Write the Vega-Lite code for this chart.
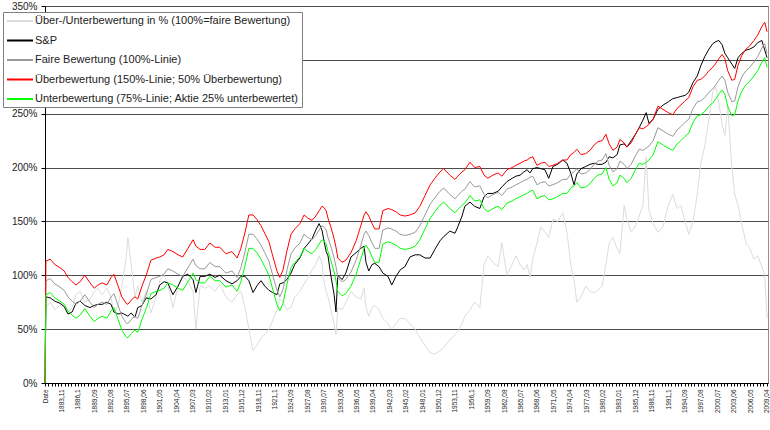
{
  "$schema": "https://vega.github.io/schema/vega-lite/v6.json",
  "width": 723,
  "height": 377,
  "autosize": "none",
  "padding": {"left": 45, "top": 6, "right": 2, "bottom": 47},
  "background": "white",
  "config": {
    "font": "Liberation Sans",
    "view": {"stroke": "#909090"},
    "axis": {"domainColor": "#000000", "tickColor": "#000000", "labelColor": "#222222", "labelFont": "Liberation Sans"}
  },
  "data": {"values": [
    {"m":0,"ratio":0,"sp":0,"fair":0,"over":0,"under":0},
    {"m":2,"ratio":70,"sp":80,"fair":95,"over":113,"under":82},
    {"m":11,"ratio":75,"sp":79,"fair":97,"over":115,"under":84},
    {"m":21,"ratio":68,"sp":76,"fair":92,"over":110,"under":79},
    {"m":32,"ratio":72,"sp":74,"fair":89,"over":107,"under":76},
    {"m":41,"ratio":70,"sp":71,"fair":86,"over":104,"under":73},
    {"m":49,"ratio":66,"sp":64,"fair":80,"over":98,"under":67},
    {"m":58,"ratio":70,"sp":66,"fair":76,"over":94,"under":63},
    {"m":66,"ratio":82,"sp":74,"fair":73,"over":91,"under":60},
    {"m":75,"ratio":85,"sp":76,"fair":76,"over":94,"under":63},
    {"m":85,"ratio":75,"sp":72,"fair":82,"over":100,"under":69},
    {"m":96,"ratio":78,"sp":70,"fair":75,"over":93,"under":62},
    {"m":105,"ratio":85,"sp":72,"fair":70,"over":88,"under":57},
    {"m":113,"ratio":88,"sp":73,"fair":73,"over":91,"under":60},
    {"m":122,"ratio":82,"sp":73,"fair":75,"over":93,"under":62},
    {"m":132,"ratio":88,"sp":75,"fair":73,"over":91,"under":60},
    {"m":141,"ratio":80,"sp":73,"fair":80,"over":98,"under":67},
    {"m":147,"ratio":65,"sp":66,"fair":83,"over":101,"under":70},
    {"m":156,"ratio":72,"sp":64,"fair":72,"over":90,"under":59},
    {"m":164,"ratio":90,"sp":65,"fair":62,"over":80,"under":49},
    {"m":173,"ratio":115,"sp":63,"fair":56,"over":74,"under":43},
    {"m":177,"ratio":135,"sp":62,"fair":55,"over":73,"under":42},
    {"m":184,"ratio":110,"sp":65,"fair":59,"over":77,"under":46},
    {"m":192,"ratio":80,"sp":61,"fair":62,"over":80,"under":49},
    {"m":198,"ratio":90,"sp":70,"fair":60,"over":78,"under":47},
    {"m":207,"ratio":75,"sp":72,"fair":72,"over":90,"under":59},
    {"m":216,"ratio":85,"sp":79,"fair":82,"over":100,"under":69},
    {"m":226,"ratio":65,"sp":78,"fair":96,"over":114,"under":83},
    {"m":237,"ratio":80,"sp":82,"fair":98,"over":116,"under":85},
    {"m":245,"ratio":95,"sp":91,"fair":99,"over":117,"under":86},
    {"m":254,"ratio":100,"sp":94,"fair":101,"over":119,"under":88},
    {"m":262,"ratio":92,"sp":93,"fair":106,"over":124,"under":93},
    {"m":273,"ratio":70,"sp":82,"fair":104,"over":122,"under":91},
    {"m":284,"ratio":90,"sp":90,"fair":101,"over":119,"under":88},
    {"m":294,"ratio":98,"sp":99,"fair":99,"over":117,"under":86},
    {"m":305,"ratio":95,"sp":101,"fair":107,"over":125,"under":94},
    {"m":316,"ratio":85,"sp":96,"fair":115,"over":133,"under":102},
    {"m":322,"ratio":50,"sp":84,"fair":109,"over":127,"under":96},
    {"m":331,"ratio":90,"sp":99,"fair":106,"over":124,"under":93},
    {"m":341,"ratio":88,"sp":99,"fair":106,"over":124,"under":93},
    {"m":352,"ratio":90,"sp":101,"fair":112,"over":130,"under":99},
    {"m":363,"ratio":85,"sp":98,"fair":108,"over":126,"under":95},
    {"m":373,"ratio":92,"sp":100,"fair":108,"over":126,"under":95},
    {"m":386,"ratio":80,"sp":95,"fair":102,"over":120,"under":89},
    {"m":399,"ratio":75,"sp":92,"fair":104,"over":122,"under":91},
    {"m":410,"ratio":82,"sp":95,"fair":98,"over":116,"under":85},
    {"m":418,"ratio":85,"sp":99,"fair":107,"over":125,"under":94},
    {"m":427,"ratio":70,"sp":99,"fair":122,"over":140,"under":109},
    {"m":435,"ratio":50,"sp":95,"fair":138,"over":156,"under":125},
    {"m":444,"ratio":30,"sp":84,"fair":138,"over":156,"under":125},
    {"m":452,"ratio":35,"sp":90,"fair":134,"over":152,"under":121},
    {"m":461,"ratio":42,"sp":95,"fair":128,"over":146,"under":115},
    {"m":469,"ratio":45,"sp":90,"fair":121,"over":139,"under":108},
    {"m":478,"ratio":50,"sp":86,"fair":113,"over":131,"under":100},
    {"m":486,"ratio":58,"sp":84,"fair":100,"over":118,"under":87},
    {"m":495,"ratio":68,"sp":82,"fair":86,"over":104,"under":73},
    {"m":501,"ratio":78,"sp":92,"fair":80,"over":98,"under":67},
    {"m":508,"ratio":75,"sp":93,"fair":87,"over":105,"under":74},
    {"m":516,"ratio":68,"sp":96,"fair":104,"over":122,"under":91},
    {"m":525,"ratio":70,"sp":102,"fair":120,"over":138,"under":107},
    {"m":533,"ratio":80,"sp":110,"fair":125,"over":143,"under":112},
    {"m":544,"ratio":85,"sp":116,"fair":130,"over":148,"under":117},
    {"m":553,"ratio":92,"sp":125,"fair":138,"over":156,"under":125},
    {"m":561,"ratio":98,"sp":129,"fair":135,"over":153,"under":122},
    {"m":570,"ratio":105,"sp":134,"fair":133,"over":151,"under":120},
    {"m":578,"ratio":110,"sp":142,"fair":137,"over":155,"under":124},
    {"m":585,"ratio":118,"sp":148,"fair":142,"over":160,"under":129},
    {"m":591,"ratio":112,"sp":142,"fair":146,"over":164,"under":133},
    {"m":595,"ratio":95,"sp":133,"fair":145,"over":163,"under":132},
    {"m":600,"ratio":85,"sp":122,"fair":142,"over":160,"under":129},
    {"m":604,"ratio":80,"sp":118,"fair":135,"over":153,"under":122},
    {"m":610,"ratio":68,"sp":100,"fair":127,"over":145,"under":114},
    {"m":617,"ratio":55,"sp":82,"fair":116,"over":134,"under":103},
    {"m":621,"ratio":45,"sp":66,"fair":108,"over":126,"under":95},
    {"m":625,"ratio":70,"sp":100,"fair":98,"over":116,"under":85},
    {"m":634,"ratio":68,"sp":96,"fair":94,"over":112,"under":81},
    {"m":642,"ratio":75,"sp":102,"fair":96,"over":114,"under":83},
    {"m":653,"ratio":85,"sp":117,"fair":103,"over":121,"under":90},
    {"m":664,"ratio":80,"sp":121,"fair":114,"over":132,"under":101},
    {"m":674,"ratio":78,"sp":125,"fair":128,"over":146,"under":115},
    {"m":681,"ratio":88,"sp":127,"fair":138,"over":156,"under":125},
    {"m":685,"ratio":70,"sp":112,"fair":141,"over":159,"under":128},
    {"m":691,"ratio":62,"sp":104,"fair":137,"over":155,"under":124},
    {"m":698,"ratio":70,"sp":110,"fair":130,"over":148,"under":117},
    {"m":704,"ratio":72,"sp":111,"fair":125,"over":143,"under":112},
    {"m":713,"ratio":68,"sp":108,"fair":125,"over":143,"under":112},
    {"m":721,"ratio":60,"sp":102,"fair":142,"over":160,"under":129},
    {"m":732,"ratio":55,"sp":99,"fair":144,"over":162,"under":131},
    {"m":740,"ratio":50,"sp":91,"fair":143,"over":161,"under":130},
    {"m":749,"ratio":55,"sp":99,"fair":141,"over":159,"under":128},
    {"m":758,"ratio":60,"sp":105,"fair":138,"over":156,"under":125},
    {"m":768,"ratio":60,"sp":108,"fair":137,"over":155,"under":124},
    {"m":779,"ratio":55,"sp":117,"fair":138,"over":156,"under":125},
    {"m":790,"ratio":50,"sp":119,"fair":140,"over":158,"under":127},
    {"m":800,"ratio":42,"sp":119,"fair":146,"over":164,"under":133},
    {"m":811,"ratio":35,"sp":116,"fair":156,"over":174,"under":143},
    {"m":822,"ratio":28,"sp":116,"fair":166,"over":184,"under":153},
    {"m":832,"ratio":27,"sp":124,"fair":172,"over":190,"under":159},
    {"m":843,"ratio":30,"sp":132,"fair":178,"over":196,"under":165},
    {"m":851,"ratio":33,"sp":136,"fair":181,"over":199,"under":168},
    {"m":864,"ratio":40,"sp":141,"fair":175,"over":193,"under":162},
    {"m":875,"ratio":45,"sp":139,"fair":171,"over":189,"under":158},
    {"m":881,"ratio":48,"sp":145,"fair":174,"over":192,"under":161},
    {"m":890,"ratio":55,"sp":155,"fair":178,"over":196,"under":165},
    {"m":896,"ratio":62,"sp":164,"fair":180,"over":198,"under":167},
    {"m":907,"ratio":68,"sp":168,"fair":187,"over":205,"under":174},
    {"m":917,"ratio":75,"sp":164,"fair":182,"over":200,"under":169},
    {"m":928,"ratio":70,"sp":162,"fair":183,"over":201,"under":170},
    {"m":937,"ratio":110,"sp":173,"fair":175,"over":193,"under":162},
    {"m":945,"ratio":118,"sp":176,"fair":172,"over":190,"under":159},
    {"m":956,"ratio":112,"sp":176,"fair":175,"over":193,"under":162},
    {"m":967,"ratio":108,"sp":178,"fair":177,"over":195,"under":164},
    {"m":975,"ratio":130,"sp":182,"fair":174,"over":192,"under":161},
    {"m":986,"ratio":100,"sp":187,"fair":180,"over":198,"under":167},
    {"m":997,"ratio":110,"sp":190,"fair":182,"over":200,"under":169},
    {"m":1005,"ratio":118,"sp":192,"fair":184,"over":202,"under":171},
    {"m":1014,"ratio":110,"sp":193,"fair":186,"over":204,"under":173},
    {"m":1022,"ratio":105,"sp":196,"fair":188,"over":206,"under":175},
    {"m":1029,"ratio":110,"sp":198,"fair":189,"over":207,"under":176},
    {"m":1035,"ratio":98,"sp":195,"fair":191,"over":209,"under":178},
    {"m":1041,"ratio":115,"sp":199,"fair":192,"over":210,"under":179},
    {"m":1050,"ratio":130,"sp":200,"fair":184,"over":202,"under":171},
    {"m":1058,"ratio":145,"sp":199,"fair":186,"over":204,"under":173},
    {"m":1067,"ratio":140,"sp":198,"fair":187,"over":205,"under":174},
    {"m":1075,"ratio":135,"sp":190,"fair":183,"over":201,"under":170},
    {"m":1084,"ratio":152,"sp":201,"fair":184,"over":202,"under":171},
    {"m":1094,"ratio":150,"sp":203,"fair":186,"over":204,"under":173},
    {"m":1105,"ratio":158,"sp":207,"fair":189,"over":207,"under":176},
    {"m":1114,"ratio":140,"sp":204,"fair":189,"over":207,"under":176},
    {"m":1122,"ratio":110,"sp":195,"fair":194,"over":212,"under":181},
    {"m":1129,"ratio":96,"sp":184,"fair":196,"over":214,"under":183},
    {"m":1135,"ratio":75,"sp":194,"fair":199,"over":217,"under":186},
    {"m":1144,"ratio":80,"sp":199,"fair":194,"over":212,"under":181},
    {"m":1154,"ratio":90,"sp":201,"fair":195,"over":213,"under":182},
    {"m":1163,"ratio":85,"sp":203,"fair":198,"over":216,"under":185},
    {"m":1172,"ratio":84,"sp":204,"fair":203,"over":221,"under":190},
    {"m":1180,"ratio":86,"sp":203,"fair":206,"over":224,"under":193},
    {"m":1189,"ratio":90,"sp":203,"fair":207,"over":225,"under":194},
    {"m":1197,"ratio":110,"sp":205,"fair":213,"over":231,"under":200},
    {"m":1204,"ratio":130,"sp":210,"fair":202,"over":222,"under":189},
    {"m":1212,"ratio":135,"sp":209,"fair":196,"over":216,"under":183},
    {"m":1221,"ratio":125,"sp":212,"fair":199,"over":219,"under":186},
    {"m":1227,"ratio":120,"sp":221,"fair":206,"over":226,"under":193},
    {"m":1236,"ratio":165,"sp":222,"fair":203,"over":223,"under":190},
    {"m":1242,"ratio":152,"sp":219,"fair":199,"over":219,"under":186},
    {"m":1251,"ratio":140,"sp":225,"fair":203,"over":223,"under":190},
    {"m":1259,"ratio":145,"sp":230,"fair":210,"over":230,"under":197},
    {"m":1268,"ratio":155,"sp":237,"fair":217,"over":237,"under":204},
    {"m":1276,"ratio":165,"sp":244,"fair":216,"over":236,"under":203},
    {"m":1283,"ratio":210,"sp":251,"fair":218,"over":238,"under":205},
    {"m":1289,"ratio":160,"sp":241,"fair":220,"over":240,"under":207},
    {"m":1298,"ratio":148,"sp":245,"fair":225,"over":245,"under":212},
    {"m":1308,"ratio":140,"sp":254,"fair":237,"over":257,"under":224},
    {"m":1319,"ratio":145,"sp":258,"fair":234,"over":254,"under":221},
    {"m":1330,"ratio":165,"sp":261,"fair":231,"over":251,"under":218},
    {"m":1340,"ratio":175,"sp":264,"fair":229,"over":249,"under":216},
    {"m":1349,"ratio":162,"sp":265,"fair":235,"over":255,"under":222},
    {"m":1357,"ratio":165,"sp":266,"fair":238,"over":258,"under":225},
    {"m":1366,"ratio":150,"sp":267,"fair":242,"over":262,"under":229},
    {"m":1374,"ratio":138,"sp":270,"fair":245,"over":265,"under":232},
    {"m":1383,"ratio":150,"sp":279,"fair":255,"over":275,"under":242},
    {"m":1392,"ratio":175,"sp":285,"fair":261,"over":281,"under":248},
    {"m":1400,"ratio":205,"sp":295,"fair":262,"over":282,"under":249},
    {"m":1408,"ratio":220,"sp":303,"fair":265,"over":285,"under":252},
    {"m":1417,"ratio":245,"sp":310,"fair":270,"over":290,"under":257},
    {"m":1425,"ratio":270,"sp":315,"fair":273,"over":293,"under":260},
    {"m":1432,"ratio":275,"sp":317,"fair":277,"over":297,"under":264},
    {"m":1438,"ratio":260,"sp":318,"fair":281,"over":301,"under":268},
    {"m":1445,"ratio":240,"sp":314,"fair":285,"over":305,"under":272},
    {"m":1451,"ratio":230,"sp":306,"fair":281,"over":301,"under":268},
    {"m":1457,"ratio":258,"sp":302,"fair":270,"over":290,"under":257},
    {"m":1466,"ratio":200,"sp":296,"fair":261,"over":281,"under":248},
    {"m":1472,"ratio":175,"sp":292,"fair":262,"over":282,"under":249},
    {"m":1479,"ratio":165,"sp":302,"fair":275,"over":295,"under":262},
    {"m":1487,"ratio":148,"sp":306,"fair":284,"over":304,"under":271},
    {"m":1496,"ratio":130,"sp":309,"fair":290,"over":310,"under":277},
    {"m":1504,"ratio":125,"sp":310,"fair":293,"over":313,"under":280},
    {"m":1513,"ratio":115,"sp":312,"fair":298,"over":318,"under":285},
    {"m":1521,"ratio":118,"sp":316,"fair":303,"over":323,"under":290},
    {"m":1530,"ratio":108,"sp":318,"fair":311,"over":331,"under":298},
    {"m":1536,"ratio":100,"sp":309,"fair":315,"over":335,"under":302},
    {"m":1541,"ratio":60,"sp":302,"fair":306,"over":326,"under":293}
  ]},
  "transform": [
    {"fold": ["ratio", "sp", "fair", "over", "under"], "as": ["key", "value"]}
  ],
  "mark": {"type": "line", "strokeWidth": 1, "interpolate": "linear"},
  "encoding": {
    "x": {
      "field": "m", "type": "quantitative",
      "scale": {"domain": [0, 1543], "nice": false, "zero": false},
      "axis": {
        "title": null, "grid": false,
        "values": [0,7,14,21,28,35,42,49,56,63,70,77,84,91,98,105,112,119,126,133,140,147,154,161,168,175,182,189,196,203,210,217,224,231,238,245,252,259,266,273,280,287,294,301,308,315,322,329,336,343,350,357,364,371,378,385,392,399,406,413,420,427,434,441,448,455,462,469,476,483,490,497,504,511,518,525,532,539,546,553,560,567,574,581,588,595,602,609,616,623,630,637,644,651,658,665,672,679,686,693,700,707,714,721,728,735,742,749,756,763,770,777,784,791,798,805,812,819,826,833,840,847,854,861,868,875,882,889,896,903,910,917,924,931,938,945,952,959,966,973,980,987,994,1001,1008,1015,1022,1029,1036,1043,1050,1057,1064,1071,1078,1085,1092,1099,1106,1113,1120,1127,1134,1141,1148,1155,1162,1169,1176,1183,1190,1197,1204,1211,1218,1225,1232,1239,1246,1253,1260,1267,1274,1281,1288,1295,1302,1309,1316,1323,1330,1337,1344,1351,1358,1365,1372,1379,1386,1393,1400,1407,1414,1421,1428,1435,1442,1449,1456,1463,1470,1477,1484,1491,1498,1505,1512,1519,1526,1533,1540],
        "labelExpr": "datum.value == 0 ? 'Date' : (datum.value % 35 != 0 ? '' : floor((22571 + datum.value) / 12) + ',' + ((22571 + datum.value) % 12 == 9 ? '1' : ((22571 + datum.value) % 12 < 9 ? '0' : '') + ((22571 + datum.value) % 12 + 1)))",
        "labelAngle": 270, "labelAlign": "right", "labelBaseline": "middle",
        "labelFontSize": 6.5, "labelPadding": 3, "tickSize": 3,
        "labelOverlap": false, "labelFlush": false, "labelBound": false
      }
    },
    "y": {
      "field": "value", "type": "quantitative",
      "scale": {"domain": [0, 350], "nice": false, "zero": true},
      "axis": {
        "title": null, "values": [0,50,100,150,200,250,300,350],
        "labelExpr": "datum.value + '%'",
        "labelFontSize": 10, "tickSize": 4, "labelPadding": 4,
        "grid": true, "gridColor": "#4d4d4d", "gridWidth": 1
      }
    },
    "color": {
      "field": "key", "type": "nominal",
      "scale": {"domain": ["ratio", "sp", "fair", "over", "under"], "range": ["#dcdcdc", "#000000", "#999999", "#ff0000", "#00ff00"]},
      "legend": {
        "title": null, "orient": "none", "legendX": -42, "legendY": 6,
        "symbolType": "M-1,0H4.2", "symbolSize": 100, "symbolStrokeWidth": 2,
        "labelFontSize": 11, "labelColor": "#222222", "labelLimit": 400, "labelOffset": 17,
        "fillColor": "white", "strokeColor": "#7f7f7f", "padding": 3, "rowPadding": 8.5,
        "labelExpr": "datum.value == 'ratio' ? 'Über-/Unterbewertung in % (100%=faire Bewertung)' : datum.value == 'sp' ? 'S&P' : datum.value == 'fair' ? 'Faire Bewertung (100%-Linie)' : datum.value == 'over' ? 'Überbewertung (150%-Linie; 50% Überbewertung)' : 'Unterbewertung (75%-Linie; Aktie 25% unterbewertet)'"
      }
    }
  }
}
